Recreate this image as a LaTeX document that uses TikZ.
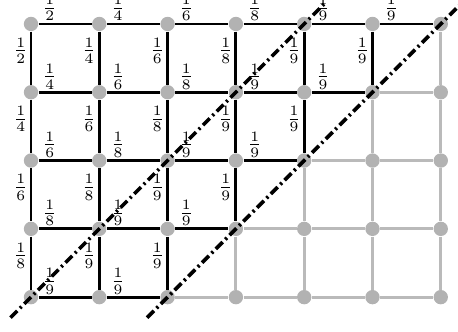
\documentclass[tikz,border=0pt]{standalone}
\usetikzlibrary{calc}
\begin{document}
\begin{tikzpicture}[
  vtx/.style={circle, fill=black!30, minimum size=0.21cm, inner sep=0pt},
  blk/.style={line width=1.2pt, black},
  gry/.style={line width=1.2pt, black!27},
  diag/.style={line width=1.5pt, dash pattern=on 4pt off 1.6pt on 0.9pt off 1.6pt},
  lab/.style={font=\small, inner sep=0pt, anchor=center}
]
\useasboundingbox (-0.454,-4.509) rectangle (6.252,0.351);
% vertices
\foreach \i in {0,...,6}{
  \foreach \j in {0,...,4}{
    \node[vtx] (n-\i-\j) at (\i,-\j) {};
  }
}
% horizontal edges
\foreach \j in {0,...,4}{
  \foreach \i in {0,...,5}{
    \pgfmathtruncatemacro\sm{\i+\j}
    \pgfmathtruncatemacro\dn{min(2*(\sm+1),9)}
    \pgfmathtruncatemacro\inext{\i+1}
    \ifnum\sm<6
      \draw[blk] (n-\i-\j) -- node[lab, pos=0.21, yshift=0.23cm] (h-\i-\j) {$\frac{1}{\dn}$} (n-\inext-\j);
    \else
      \draw[gry] (n-\i-\j) -- (n-\inext-\j);
    \fi
  }
}
% vertical edges
\foreach \i in {0,...,6}{
  \foreach \j in {0,...,3}{
    \pgfmathtruncatemacro\sm{\i+\j}
    \pgfmathtruncatemacro\dn{min(2*(\sm+1),9)}
    \pgfmathtruncatemacro\jnext{\j+1}
    \ifnum\sm<6
      \draw[blk] (n-\i-\j) -- node[lab, pos=0.36, xshift=-0.15cm] (v-\i-\j) {$\frac{1}{\dn}$} (n-\i-\jnext);
    \else
      \draw[gry] (n-\i-\j) -- (n-\i-\jnext);
    \fi
  }
}
% diagonals
\coordinate (d1s) at (-0.3,-4.3);
\coordinate (d1e) at (4.3,0.3);
\coordinate (d2s) at (1.7,-4.3);
\coordinate (d2e) at (6.3,0.3);
\draw[diag] (d1s) -- (d1e);
\draw[diag] (d2s) -- (d2e);
\end{tikzpicture}
\end{document}
